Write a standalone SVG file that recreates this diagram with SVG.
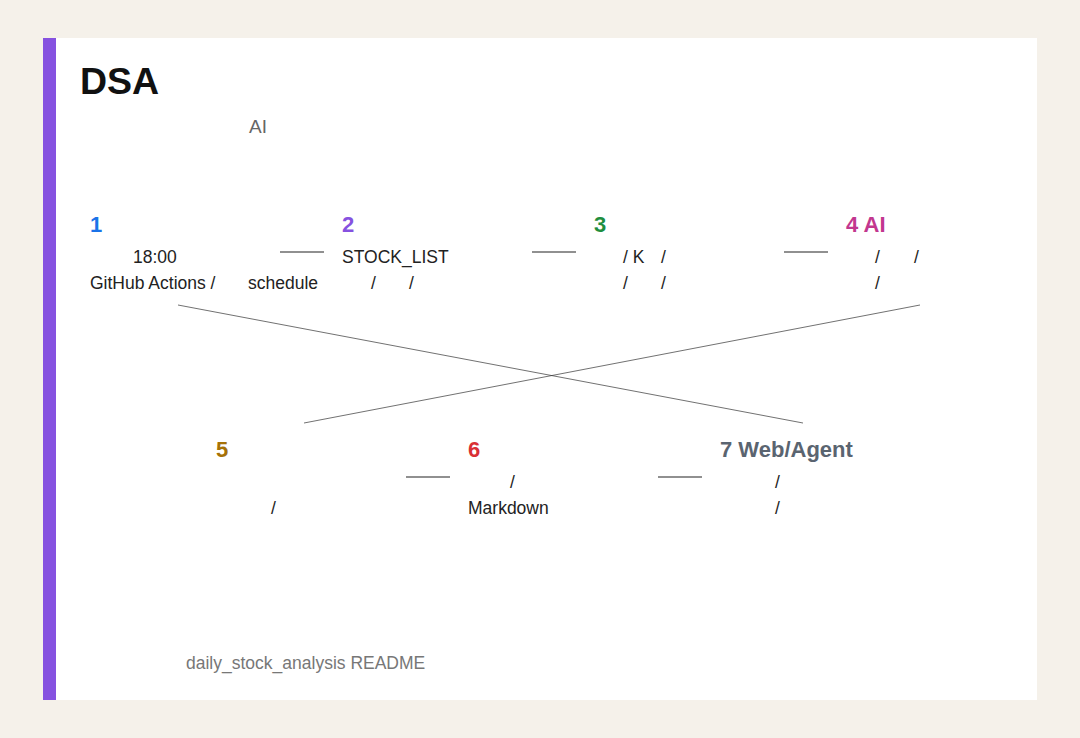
<svg xmlns="http://www.w3.org/2000/svg" width="1080" height="738" viewBox="0 0 1080 738">
<style>
.h{font-family:"Liberation Sans",Arial,sans-serif;font-weight:bold;font-size:22px}
.b{font-family:"Liberation Sans",Arial,sans-serif;font-size:17.5px;fill:#222}
.c{stroke:#222;stroke-width:1.1}
.x{stroke:#333;stroke-width:0.7;fill:none}
</style>
<rect width="1080" height="738" fill="#f5f1ea"/>
<rect x="43" y="38" width="994" height="662" fill="#ffffff"/>
<rect x="43" y="38" width="13" height="662" fill="#8652e0"/>
<g id="title">
<text x="80" y="94" font-family="Liberation Sans,Arial,sans-serif" font-weight="bold" font-size="37.5" fill="#111">DSA</text>
<text x="249" y="133" font-family="Liberation Sans,Arial,sans-serif" font-size="19" fill="#666">AI</text>
</g>
<g id="connectors">
<line class="c" x1="280" y1="252" x2="324" y2="252"/>
<line class="c" x1="532" y1="252" x2="576" y2="252"/>
<line class="c" x1="784" y1="252" x2="828" y2="252"/>
<line class="c" x1="406" y1="477" x2="450" y2="477"/>
<line class="c" x1="658" y1="477" x2="702" y2="477"/>
<line class="x" x1="178" y1="305" x2="803" y2="423"/>
<line class="x" x1="920" y1="305" x2="304" y2="423"/>
</g>
<g id="node1">
<text class="h" x="90" y="232" fill="#1a73e8">1</text>
<text class="b" x="133" y="263">18:00</text>
<text class="b" y="289"><tspan x="90">GitHub Actions /</tspan><tspan x="248">schedule</tspan></text>
</g>
<g id="node2">
<text class="h" x="342" y="232" fill="#8652e0">2</text>
<text class="b" x="342" y="263">STOCK_LIST</text>
<text class="b" y="289"><tspan x="371">/</tspan><tspan x="409">/</tspan></text>
</g>
<g id="node3">
<text class="h" x="594" y="232" fill="#1e8e3e">3</text>
<text class="b" y="263"><tspan x="623">/ K</tspan><tspan x="661">/</tspan></text>
<text class="b" y="289"><tspan x="623">/</tspan><tspan x="661">/</tspan></text>
</g>
<g id="node4">
<text class="h" x="846" y="232" fill="#c2378f">4 AI</text>
<text class="b" y="263"><tspan x="875">/</tspan><tspan x="914">/</tspan></text>
<text class="b" y="289"><tspan x="875">/</tspan></text>
</g>
<g id="node5">
<text class="h" x="216" y="457" fill="#a67208">5</text>
<text class="b" x="271" y="514">/</text>
</g>
<g id="node6">
<text class="h" x="468" y="457" fill="#d93035">6</text>
<text class="b" x="510" y="488">/</text>
<text class="b" x="468" y="514">Markdown</text>
</g>
<g id="node7">
<text class="h" x="720" y="457" fill="#5a6470">7 Web/Agent</text>
<text class="b" x="775" y="488">/</text>
<text class="b" x="775" y="514">/</text>
</g>
<g id="footer">
<text x="186" y="669" font-family="Liberation Sans,Arial,sans-serif" font-size="17.5" fill="#777">daily_stock_analysis README</text>
</g>
</svg>
